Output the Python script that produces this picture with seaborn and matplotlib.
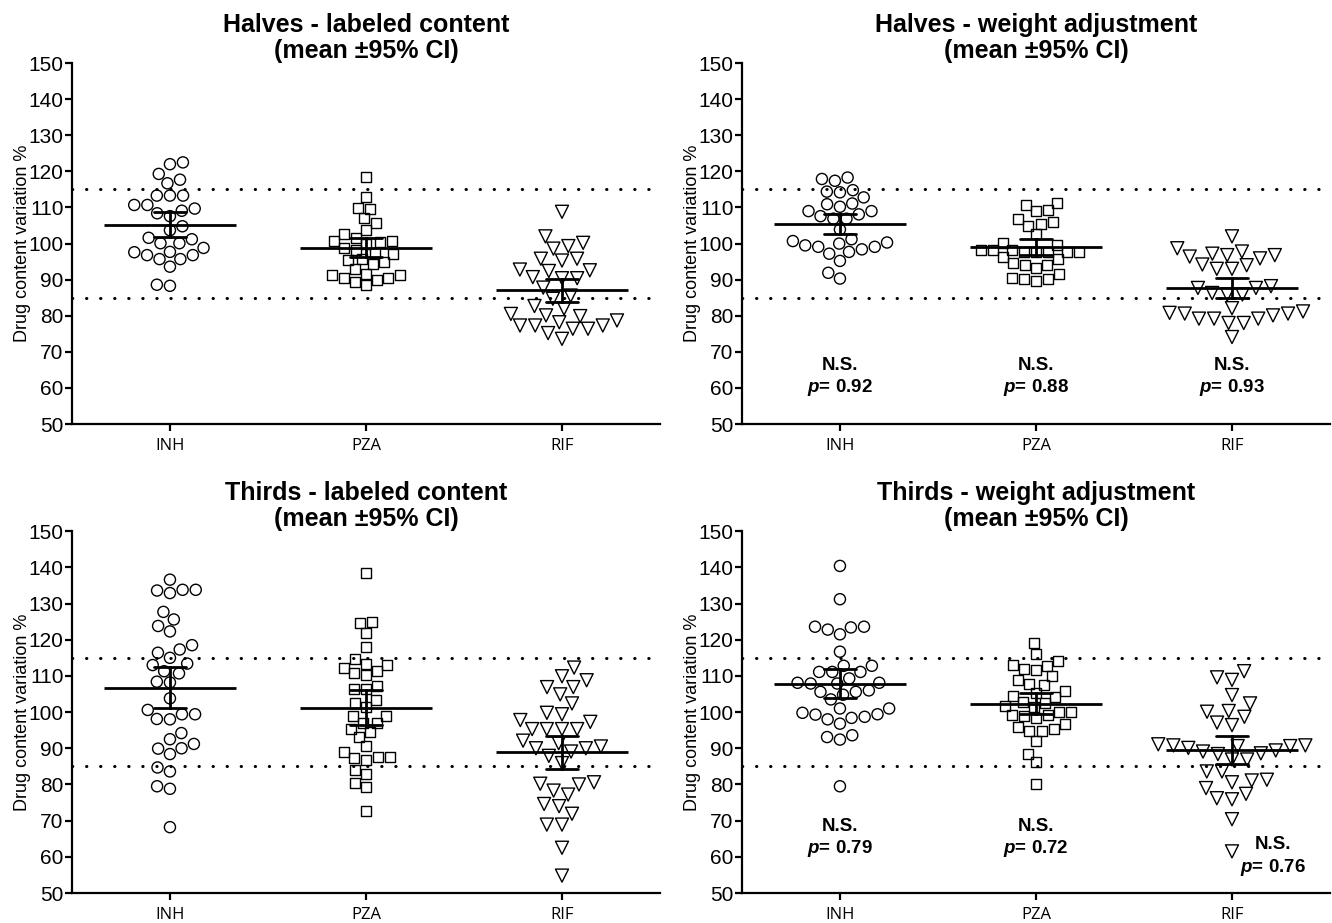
import numpy as np
import pandas as pd
import matplotlib
matplotlib.use("Agg")
import matplotlib.pyplot as plt
import seaborn as sns

# =========================
# Data
# =========================
drugs = ['INH', 'PZA', 'RIF']

# Halves - labeled content
halves_lab_inh = [122.5, 122.0, 119.3, 117.7, 116.7, 113.3, 113.3, 113.3, 110.7, 110.7,
                  109.7, 109.1, 108.4, 107.6, 104.8, 103.7, 101.6, 101.2, 100.1, 100.1,
                  98.8, 97.6, 96.8, 96.8, 97.7, 95.7, 95.7, 93.6, 88.3, 88.6]
halves_lab_pza = [118.5, 113.0, 109.9, 109.7, 107.0, 105.6, 103.9, 102.6, 101.6, 100.6,
                  100.0, 100.3, 100.7, 98.3, 97.2, 97.4, 98.9, 95.4, 94.3, 94.9,
                  95.6, 92.9, 91.4, 90.6, 89.8, 88.4, 89.4, 90.6, 91.4, 91.7]
halves_lab_rif = [108.8, 102.0, 99.3, 98.6, 100.2, 95.8, 95.3, 95.8, 92.8, 92.4,
                  90.7, 92.6, 90.4, 90.4, 87.8, 84.7, 85.6, 82.0, 80.1, 78.7,
                  78.2, 79.9, 80.5, 82.7, 77.3, 76.4, 77.3, 76.4, 77.3, 73.6, 75.2]

# Halves - weight adjustment
halves_w_inh = [118.3, 117.4, 117.9, 114.8, 114.2, 114.4, 112.8, 111.1, 110.2, 109.0,
                109.0, 110.9, 108.1, 107.6, 106.9, 106.9, 103.9, 101.2, 99.1, 98.4,
                100.3, 99.5, 100.0, 100.7, 99.1, 97.7, 97.2, 95.2, 91.9, 90.3]
halves_w_pza = [111.3, 110.8, 109.2, 108.9, 106.7, 106.1, 105.0, 105.5, 102.7, 100.1,
                99.7, 97.6, 97.6, 97.6, 98.1, 98.1, 98.1, 97.6, 97.6, 96.3,
                95.6, 94.2, 94.2, 94.6, 93.3, 91.6, 90.3, 89.6, 90.3, 90.5]
halves_w_rif = [102.0, 98.7, 97.8, 97.2, 96.4, 94.2, 93.0, 93.0, 94.0, 95.9,
                96.8, 96.8, 87.7, 86.3, 85.9, 85.9, 87.7, 88.2, 81.2, 80.6,
                80.1, 79.2, 78.0, 79.2, 79.2, 78.0, 80.6, 80.8, 82.1, 74.1]

# Thirds - labeled content
thirds_lab_inh = [136.6, 133.8, 132.9, 133.6, 133.8, 127.7, 125.6, 123.8, 122.3, 118.5,
                  117.3, 116.4, 115.0, 113.0, 113.4, 111.3, 110.7, 108.4, 108.2, 103.8,
                  99.4, 98.1, 98.0, 99.4, 100.6, 94.2, 92.5, 91.2, 89.9, 90.0,
                  88.4, 83.6, 84.7, 79.5, 78.8, 68.2]
thirds_lab_pza = [138.4, 125.0, 124.6, 121.9, 118.0, 114.8, 113.4, 112.3, 111.3, 110.9,
                  110.2, 113.0, 107.2, 106.3, 106.3, 103.3, 102.4, 101.5, 98.9, 98.9,
                  97.1, 97.1, 95.3, 94.5, 93.1, 90.5, 88.9, 87.5, 87.3, 87.5,
                  86.8, 83.9, 82.9, 80.4, 79.2, 72.8]
thirds_lab_rif = [112.3, 109.9, 108.8, 106.9, 106.9, 104.9, 102.4, 99.8, 99.4, 97.8,
                  97.3, 95.3, 95.3, 95.3, 95.3, 92.1, 91.4, 90.5, 90.0, 90.0,
                  89.1, 87.9, 85.9, 80.6, 80.0, 80.2, 78.3, 77.2, 74.6, 74.0,
                  71.9, 68.9, 68.9, 62.5, 54.8]

# Thirds - weight adjustment
thirds_w_inh = [140.4, 131.2, 123.6, 122.8, 121.5, 123.4, 123.6, 116.7, 112.8, 111.1,
                111.1, 111.1, 112.8, 109.3, 108.1, 108.1, 107.9, 107.9, 106.0, 104.8,
                105.6, 105.6, 103.5, 101.0, 101.0, 99.8, 99.3, 98.4, 96.8, 98.0,
                98.7, 99.4, 93.1, 92.4, 93.6, 79.5]
thirds_w_pza = [119.2, 116.1, 114.0, 112.8, 113.1, 111.6, 111.9, 109.9, 108.9, 107.5,
                107.8, 105.9, 104.5, 104.2, 105.2, 102.6, 102.9, 101.5, 101.6, 99.9,
                99.2, 98.4, 98.9, 99.2, 99.9, 95.9, 94.8, 96.6, 94.7, 95.4,
                92.1, 88.4, 86.1, 80.0]
thirds_w_rif = [111.3, 108.9, 109.6, 104.7, 102.4, 100.1, 98.7, 100.3, 96.4, 97.1,
                90.6, 90.1, 89.1, 88.4, 90.8, 91.1, 86.9, 86.9, 88.6, 89.4,
                90.6, 90.8, 83.6, 81.1, 80.6, 81.3, 83.6, 79.0, 77.4, 75.9,
                76.2, 70.4, 61.5]

p_halves = ['0.92', '0.88', '0.93']
p_thirds = ['0.79', '0.72', '0.76']

titles = ['Halves - labeled content', 'Halves - weight adjustment',
          'Thirds - labeled content', 'Thirds - weight adjustment']

# =========================
# Style
# =========================
sns.set_style('ticks')
plt.rcParams['font.family'] = ['Liberation Sans', 'DejaVu Sans']
plt.rcParams['mathtext.fontset'] = 'custom'
plt.rcParams['mathtext.it'] = 'Liberation Sans:italic:bold'
plt.rcParams['axes.linewidth'] = 1.6
for key in ['text.color', 'axes.labelcolor', 'axes.edgecolor',
            'xtick.color', 'ytick.color']:
    plt.rcParams[key] = 'black'

markers = {'INH': 'o', 'PZA': 's', 'RIF': 'v'}
msizes = {'INH': 8.0, 'PZA': 7.2, 'RIF': 9.4}


def make_df(groups):
    return pd.concat(
        [pd.DataFrame({'drug': d, 'value': v}) for d, v in zip(drugs, groups)],
        ignore_index=True
    )


def draw_panel(ax, groups, title, pvals=None, p_pos=None):
    df = make_df(groups)

    # acceptance limits
    for lim in (85, 115):
        ax.axhline(lim, color='black', linewidth=2.2,
                   linestyle=(0, (0.1, 4.5)), dash_capstyle='round', zorder=1)

    for d in drugs:
        sns.swarmplot(data=df[df['drug'] == d], x='drug', y='value', order=drugs,
                      marker=markers[d], size=msizes[d], color='black',
                      facecolors='none', edgecolor='black', linewidth=1.0,
                      ax=ax)

    # mean +/- 95% CI
    sns.pointplot(data=df, x='drug', y='value', order=drugs,
                  estimator='mean', errorbar=('ci', 95), n_boot=2000, seed=3,
                  color='black', markers='_', markersize=95,
                  markeredgewidth=2.0, linestyle='none', capsize=0.16,
                  err_kws={'linewidth': 2.0}, ax=ax)

    ax.set_xlim(-0.5, 2.5)
    ax.set_ylim(50, 150)
    ax.set_yticks(np.arange(50, 151, 10))
    ax.set_xlabel('')
    ax.set_ylabel('Drug content variation %', fontsize=13, labelpad=-2)
    ax.tick_params(axis='y', labelsize=15, length=5, width=1.6, pad=1)
    ax.tick_params(axis='x', labelsize=12, length=5, width=1.6, pad=5)
    for lbl in ax.get_xticklabels():
        lbl.set_fontfamily(['Open Sans', 'DejaVu Sans'])
    sns.despine(ax=ax)

    ax.set_title(title + '\n(mean ±95% CI)', fontsize=18, fontweight='bold',
                 linespacing=1.1, pad=4)

    if pvals is not None:
        for i, p in enumerate(pvals):
            dx, y0 = p_pos[i]
            ax.text(i + dx, y0, 'N.S.', ha='center', va='center',
                    fontsize=13.5, fontweight='bold')
            ax.text(i + dx, y0 - 6.3, r'$\mathit{p}$= ' + p, ha='center',
                    va='center', fontsize=13.5, fontweight='bold')


# =========================
# Figure
# =========================
fig = plt.figure(figsize=(13.32, 9.23), dpi=100)

ax1 = fig.add_axes([0.054, 0.5406, 0.4415, 0.391])
ax2 = fig.add_axes([0.557, 0.5406, 0.4415, 0.391])
ax3 = fig.add_axes([0.054, 0.0325, 0.4415, 0.392])
ax4 = fig.add_axes([0.557, 0.0325, 0.4415, 0.392])

draw_panel(ax1, [halves_lab_inh, halves_lab_pza, halves_lab_rif], titles[0])
draw_panel(ax2, [halves_w_inh, halves_w_pza, halves_w_rif], titles[1],
           pvals=p_halves, p_pos=[(0, 66.3), (0, 66.3), (0, 66.3)])
draw_panel(ax3, [thirds_lab_inh, thirds_lab_pza, thirds_lab_rif], titles[2])
draw_panel(ax4, [thirds_w_inh, thirds_w_pza, thirds_w_rif], titles[3],
           pvals=p_thirds, p_pos=[(0, 68.5), (0, 68.5), (0.21, 63.3)])

plt.savefig('out.png', dpi=100)
